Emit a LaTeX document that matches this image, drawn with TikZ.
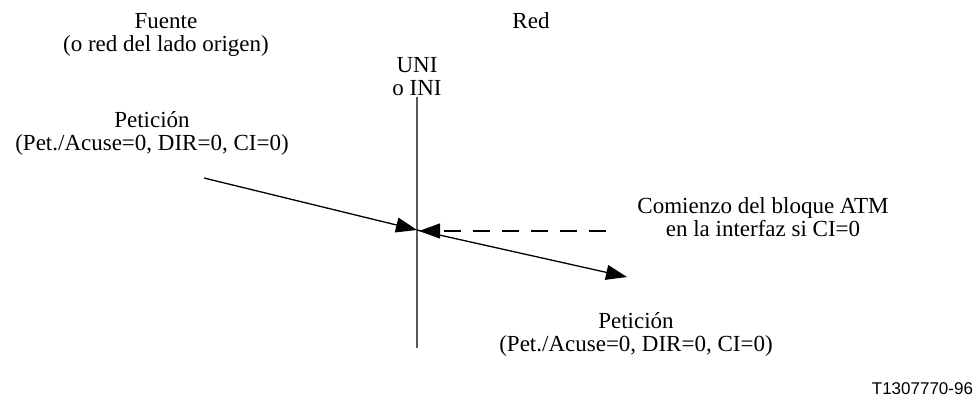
\documentclass[tikz,border=0pt]{standalone}
\usepackage{fontspec}
\setmainfont{Liberation Serif}
\newfontfamily\tagfamily{Liberation Sans}
\newcommand*{\rotfont}{\fontsize{23}{23}\selectfont}
\newcommand*{\tagfont}{\tagfamily\fontsize{17}{18}\selectfont}
\definecolor{eje}{gray}{0.35}
\usepackage{tikz}
\usetikzlibrary{arrows.meta}
\tikzstyle{base}=[x=1pt, y=-1pt, inner sep=0pt, outer sep=0pt]
\tikzstyle{rotulo}=[align=center, font=\rotfont]
\tikzstyle{flecha}=[black, line width=1.3pt, -{Triangle[length=21pt,width=15pt]}]

\begin{document}
\begin{tikzpicture}[base]
    \path [use as bounding box] (0,0) rectangle (975,399);
    % texts
    \node [rotulo] (fuente) at (166,35) {Fuente\\(o red del lado origen)};
    \node [rotulo] (red) at (531,20.5) {Red};
    \node [rotulo] (uni) at (417,77) {UNI\\o INI};
    \node [rotulo] (peticion1) at (152,133) {Petición\\(Pet./Acuse=0, DIR=0, CI=0)};
    \node [rotulo] (comienzo) at (763,217) {Comienzo del bloque ATM\\en la interfaz si CI=0};
    \node [rotulo] (peticion2) at (636,334) {Petición\\(Pet./Acuse=0, DIR=0, CI=0)};
    \node [font=\tagfont, anchor=east] (ref) at (973,389) {T1307770-96};
    % points
    \coordinate (arriba) at (417,97);
    \coordinate (abajo) at (417,348);
    \coordinate (inicio) at (204,178);
    \coordinate (cruce) at (417,230);
    \coordinate (cruce2) at (419,231);
    \coordinate (guion) at (606,231);
    \coordinate (fin) at (627,277);
        \draw [eje, line width=1.5pt] (arriba) -- (abajo);
        \draw [flecha] (inicio) -- (cruce);
        \draw [flecha] (cruce) -- (fin);
        \draw [flecha, dash pattern=on 17pt off 12pt] (guion) -- (cruce2);
\end{tikzpicture}
\end{document}
